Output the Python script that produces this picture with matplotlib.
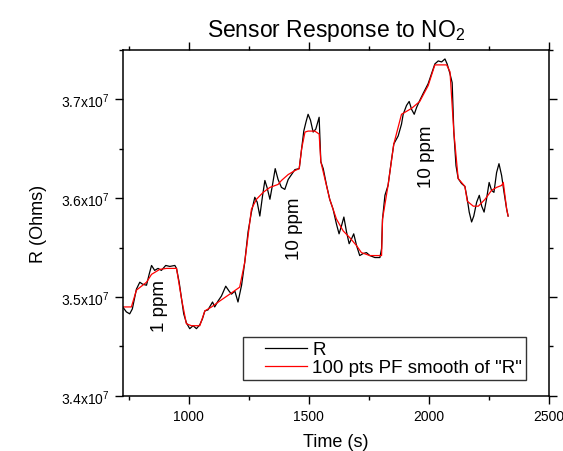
import matplotlib
matplotlib.use("Agg")
import matplotlib.pyplot as plt
from matplotlib.ticker import MultipleLocator, FuncFormatter, AutoMinorLocator
from matplotlib.legend_handler import HandlerLine2D
from matplotlib.lines import Line2D
import numpy as np

# --------------------
# font setup
plt.rcParams['font.family'] = ['Liberation Sans', 'DejaVu Sans']
plt.rcParams['mathtext.fontset'] = 'custom'
plt.rcParams['mathtext.rm'] = 'Liberation Sans'
plt.rcParams['mathtext.it'] = 'Liberation Sans:italic'

# --------------------
# data (time in s, resistance in units of 1e7 Ohm)
t_raw = [725, 740, 754, 765, 782, 796, 808, 824, 835, 845, 858, 872, 886, 904, 921,
         942, 949, 960, 970, 979, 990, 1004, 1018, 1032, 1046, 1057, 1067, 1080, 1099,
         1108, 1122, 1136, 1154, 1168, 1178, 1192, 1205, 1220, 1233, 1247, 1261, 1275,
         1285, 1296, 1307, 1317, 1326, 1338, 1349, 1360, 1372, 1386, 1400, 1414, 1428,
         1442, 1460, 1470, 1479, 1488, 1497, 1507, 1518, 1529, 1543, 1550, 1560, 1574,
         1587, 1601, 1615, 1626, 1636, 1646, 1657, 1668, 1678, 1687, 1699, 1712, 1726,
         1740, 1754, 1775, 1796, 1803, 1807, 1817, 1830, 1845, 1854, 1872, 1886, 1893,
         1907, 1918, 1928, 1939, 1949, 1962, 1976, 1997, 2011, 2025, 2039, 2053, 2067,
         2076, 2088, 2097, 2104, 2113, 2122, 2136, 2150, 2160, 2168, 2178, 2187, 2199,
         2210, 2220, 2230, 2240, 2251, 2261, 2271, 2282, 2292, 2303, 2313, 2324, 2330]
r_raw = [3.490, 3.485, 3.483, 3.488, 3.508, 3.515, 3.513, 3.512, 3.523, 3.532, 3.527,
         3.529, 3.527, 3.532, 3.531, 3.532, 3.529, 3.515, 3.498, 3.483, 3.474, 3.468,
         3.471, 3.468, 3.472, 3.478, 3.486, 3.487, 3.495, 3.490, 3.496, 3.501, 3.511,
         3.506, 3.503, 3.506, 3.495, 3.512, 3.535, 3.566, 3.586, 3.601, 3.596, 3.582,
         3.602, 3.618, 3.611, 3.599, 3.614, 3.630, 3.619, 3.611, 3.609, 3.619, 3.624,
         3.629, 3.630, 3.650, 3.668, 3.677, 3.685, 3.679, 3.667, 3.670, 3.682, 3.637,
         3.630, 3.613, 3.599, 3.589, 3.574, 3.564, 3.572, 3.581, 3.566, 3.554, 3.559,
         3.564, 3.552, 3.542, 3.544, 3.545, 3.542, 3.540, 3.540, 3.549, 3.579, 3.603,
         3.613, 3.640, 3.655, 3.663, 3.675, 3.685, 3.694, 3.698, 3.690, 3.685, 3.692,
         3.699, 3.706, 3.716, 3.726, 3.736, 3.739, 3.738, 3.741, 3.736, 3.726, 3.717,
         3.667, 3.633, 3.620, 3.615, 3.612, 3.599, 3.586, 3.576, 3.582, 3.596, 3.603,
         3.592, 3.586, 3.599, 3.616, 3.608, 3.606, 3.626, 3.635, 3.623, 3.606, 3.589,
         3.582]

t_smooth = [724, 761, 782, 824, 845, 879, 907, 949, 970, 990, 1011, 1046, 1067, 1095,
            1129, 1171, 1212, 1233, 1261, 1282, 1310, 1338, 1372, 1386, 1414, 1442,
            1460, 1470, 1484, 1497, 1525, 1543, 1550, 1587, 1615, 1643, 1671, 1699,
            1719, 1754, 1803, 1807, 1830, 1854, 1886, 1928, 1962, 1997, 2025, 2039,
            2074, 2088, 2104, 2122, 2150, 2160, 2185, 2206, 2234, 2261, 2282, 2303,
            2310, 2324, 2330]
r_smooth = [3.490, 3.490, 3.507, 3.515, 3.523, 3.528, 3.529, 3.529, 3.498, 3.473,
            3.471, 3.471, 3.486, 3.490, 3.496, 3.503, 3.510, 3.535, 3.589, 3.599,
            3.606, 3.611, 3.614, 3.618, 3.624, 3.628, 3.630, 3.650, 3.667, 3.668,
            3.668, 3.665, 3.637, 3.599, 3.579, 3.567, 3.560, 3.552, 3.545, 3.542,
            3.542, 3.579, 3.613, 3.655, 3.685, 3.691, 3.698, 3.714, 3.735, 3.735,
            3.735, 3.728, 3.667, 3.620, 3.612, 3.597, 3.592, 3.592, 3.599, 3.608,
            3.611, 3.613, 3.616, 3.589, 3.582]

# concentration labels (text, time, resistance)
conc_labels = ["1 ppm", "10 ppm", "10 ppm"]
conc_t = [879, 1442, 1992]
conc_r = [3.492, 3.570, 3.643]

# --------------------
# plot
fig = plt.figure(figsize=(5.63, 4.52), dpi=100)
ax = fig.add_axes([0.218, 0.122, 0.757, 0.765])

ax.plot(t_raw, np.array(r_raw) * 1e7, color="black", lw=0.9, label="R")
ax.plot(t_smooth, np.array(r_smooth) * 1e7, color="red", lw=0.9,
        label='100 pts PF smooth of "R"')

for txt, tx, ty in zip(conc_labels, conc_t, conc_r):
    ax.text(tx, ty * 1e7, txt, rotation=90, ha="center", va="center", fontsize=13.5)

ax.set_xlim(725, 2500)
ax.set_ylim(3.4e7, 3.75e7)
ax.xaxis.set_major_locator(MultipleLocator(500))
ax.xaxis.set_minor_locator(AutoMinorLocator(2))
ax.yaxis.set_major_locator(MultipleLocator(1e6))
ax.yaxis.set_minor_locator(AutoMinorLocator(2))
ax.yaxis.set_major_formatter(FuncFormatter(lambda v, p: f"{v/1e7:.1f}x10$^{{7}}$"))

ax.tick_params(which="both", direction="out", top=True, right=True,
               labeltop=False, labelright=False, width=1.0)
ax.tick_params(axis="x", labelsize=10)
ax.tick_params(axis="y", labelsize=10)
ax.tick_params(which="major", length=6)
ax.tick_params(which="minor", length=3)
for s in ax.spines.values():
    s.set_linewidth(1.1)

ax.set_xlabel("Time (s)", fontsize=13, labelpad=7)
ax.set_ylabel("R (Ohms)", fontsize=13, labelpad=10)
ax.set_title("Sensor Response to NO$_2$", fontsize=16.5, pad=10)

# legend: line sample sits to the right with an empty gap before it (Origin style)
leg = ax.legend(loc="lower right", bbox_to_anchor=(0.946, 0.046), fontsize=13.5,
                fancybox=False, edgecolor="#333333", framealpha=1,
                handlelength=3.2, handletextpad=0.3, borderpad=0.2,
                labelspacing=0.05, borderaxespad=0,
                handler_map={Line2D: HandlerLine2D(xpad=1.0)})
leg.get_frame().set_linewidth(1.0)

plt.savefig("out.png", dpi=100)
plt.close()
